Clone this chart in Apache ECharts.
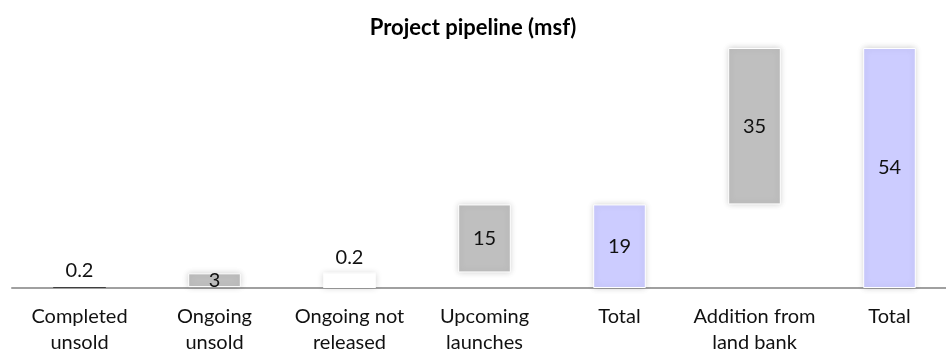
<!DOCTYPE html>
<html>
<head>
<meta charset="utf-8">
<script src="https://cdn.jsdelivr.net/npm/echarts@6/dist/echarts.min.js"></script>
<style>
html,body{margin:0;padding:0;background:#fff;}
#chart{width:946px;height:352px;}
</style>
</head>
<body>
<div id="chart"></div>
<script>
var categories = ['Completed\nunsold', 'Ongoing\nunsold', 'Ongoing not\nreleased', 'Upcoming\nlaunches', 'Total', 'Addition from\nland bank', 'Total'];
// step values; totals flagged
var values = [0.2, 3.1, 0.2, 15.3, 18.8, 35.2, 54];
var isTotal = [false, false, false, false, true, false, true];
var titleText = 'Project pipeline (msf)';

var GREY = '#BFBFBF', LAV = '#CCCCFF';

// build waterfall base + visible bars
var base = [], shown = [], running = 0;
for (var i = 0; i < values.length; i++) {
  var b = isTotal[i] ? 0 : running;
  if (isTotal[i]) running = values[i]; else running += values[i];
  base.push(b);
  var color = isTotal[i] ? LAV : GREY;
  var item = { value: values[i], itemStyle: { color: color } };
  if (i === 0) {
    item.itemStyle = { color: '#404040', borderWidth: 0, shadowBlur: 0 };
    item.label = { position: 'top', distance: 7 };
  }
  if (i === 2) {
    item.itemStyle = { color: '#ffffff', borderWidth: 0, shadowBlur: 0 };
    item.label = { position: 'top', distance: 5 };
  }
  shown.push(item);
}
var baseData = base.map(function (v, i) {
  if (i === 2) return { value: v, itemStyle: { color: '#ffffff', shadowBlur: 6, shadowColor: 'rgba(0,0,0,0.18)' } };
  return { value: v };
});

var chart = echarts.init(document.getElementById('chart'));
chart.setOption({
  animation: false,
  backgroundColor: '#fff',
  title: {
    text: titleText, left: 'center', top: 12,
    textStyle: { fontFamily: 'Lato', fontWeight: 'bold', fontSize: 22, color: '#000' }
  },
  grid: { left: 12, width: 945, top: 21.3, bottom: 64, containLabel: false, outerBoundsMode: 'none' },
  xAxis: {
    type: 'category', data: categories,
    axisLine: { lineStyle: { color: '#A0A0A0', width: 2 } },
    axisTick: { show: false },
    axisLabel: { fontFamily: 'Lato', fontSize: 20, color: '#111', lineHeight: 26, margin: 16, interval: 0 }
  },
  yAxis: { type: 'value', min: 0, max: 60, show: false, splitLine: { show: false } },
  series: [
    {
      type: 'bar', stack: 'w', data: baseData, barWidth: '39%',
      itemStyle: { color: 'transparent' }, silent: true
    },
    {
      type: 'bar', stack: 'w', data: shown, barWidth: '39%',
      itemStyle: { borderColor: '#ffffff', borderWidth: 1, shadowBlur: 6, shadowColor: 'rgba(0,0,0,0.18)' },
      label: {
        show: true, position: 'inside', fontFamily: 'Lato', fontSize: 20, color: '#111',
        formatter: function (p) { return p.value < 1 ? p.value.toFixed(1) : String(Math.round(p.value)); }
      }
    }
  ]
});
</script>
</body>
</html>
